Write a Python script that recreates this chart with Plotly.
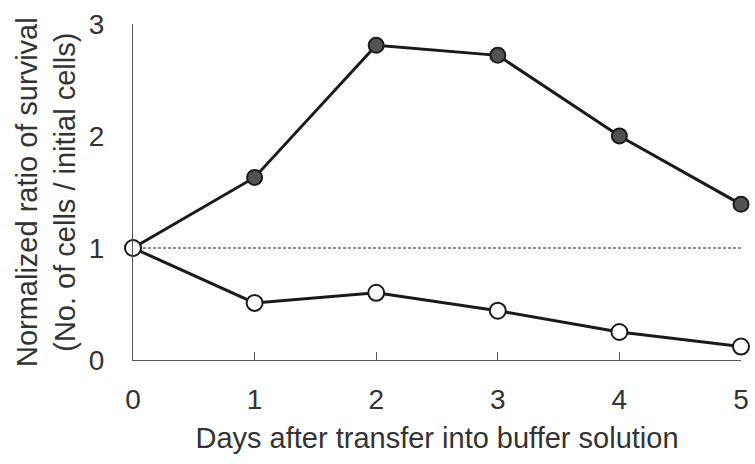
import plotly.graph_objects as go

days = [0, 1, 2, 3, 4, 5]
filled_vals = [1.0, 1.63, 2.81, 2.72, 2.0, 1.39]
open_vals = [1.0, 0.51, 0.60, 0.44, 0.25, 0.12]
ref_level = [1.0, 1.0]
ref_x = [0, 5]
x_ticks = [0, 1, 2, 3, 4, 5]
y_ticks = [0, 1, 2, 3]

FONT = "Liberation Sans, Arial, sans-serif"

fig = go.Figure()
fig.add_trace(go.Scatter(x=ref_x, y=ref_level, mode="lines",
                         line=dict(color="#222", width=1, dash="3px,2px"),
                         hoverinfo="skip", showlegend=False))
fig.add_trace(go.Scatter(x=days, y=filled_vals, mode="lines+markers",
                         line=dict(color="#1a1a1a", width=3),
                         marker=dict(size=15, color="#525252",
                                     line=dict(color="#1a1a1a", width=2)),
                         cliponaxis=False, showlegend=False))
fig.add_trace(go.Scatter(x=days, y=open_vals, mode="lines+markers",
                         line=dict(color="#1a1a1a", width=3),
                         marker=dict(size=16, color="white",
                                     line=dict(color="#1a1a1a", width=2)),
                         cliponaxis=False, showlegend=False))

fig.update_layout(
    width=755, height=464,
    margin=dict(l=133, r=14, t=24, b=104),
    paper_bgcolor="white", plot_bgcolor="white",
    font=dict(family=FONT, color="#333", size=28),
    xaxis=dict(range=[0, 5], tickvals=x_ticks, ticks="inside", ticklen=8,
               tickcolor="#555", showline=True, linecolor="#555", linewidth=1,
               showgrid=False, zeroline=False, tickfont=dict(size=28),
               ticklabelstandoff=14, automargin=False,
               title=dict(text="Days after transfer into buffer solution",
                          font=dict(size=29), standoff=14)),
    yaxis=dict(range=[0, 3], tickvals=y_ticks, ticks="", showline=True,
               linecolor="#555", linewidth=1, showgrid=False, zeroline=False,
               tickfont=dict(size=28), ticklabelstandoff=22, automargin=False),
    annotations=[dict(text="Normalized ratio of survival<br>(No. of cells / initial cells)",
                      textangle=-90, xref="paper", yref="paper",
                      x=-0.143, y=0.5, xanchor="center", yanchor="middle",
                      showarrow=False, font=dict(size=29, color="#333"))],
)

fig.write_html("out.html", config={"displayModeBar": False},
               post_script="document.body.style.margin='0';")
